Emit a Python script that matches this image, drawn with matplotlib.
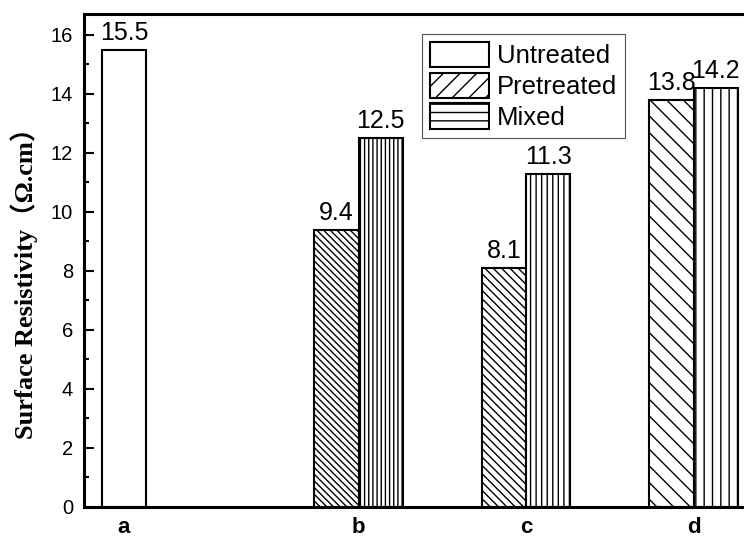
import numpy as np
import matplotlib
matplotlib.use("Agg")
import matplotlib.pyplot as plt
from matplotlib.patches import Patch

# data
categories = ['a', 'b', 'c', 'd']
untreated = [15.5, None, None, None]
pretreated = [None, 9.4, 8.1, 13.8]
mixed = [None, 12.5, 11.3, 14.2]

# layout / styles
x_pos = np.array([0.0, 1.4, 2.4, 3.4])
width = 0.263
pre_hatch = [None, '\\\\\\\\\\', '\\\\\\\\', '\\\\']
mix_hatch = [None, '||||', '|||', '||']

plt.rcParams['font.family'] = ['Liberation Sans', 'DejaVu Sans']
plt.rcParams['hatch.linewidth'] = 1.0

fig = plt.figure(figsize=(7.44, 5.40), dpi=100)
ax = fig.add_axes([84 / 744, 1 - 507 / 540, (750 - 84) / 744, (507 - 14) / 540])

def add_labels(xs, vals):
    for x, v in zip(xs, vals):
        ax.annotate(f"{v}", (x, v), xytext=(0, 3.5), textcoords='offset points',
                    ha='center', va='bottom', fontsize=18)

for i in range(len(categories)):
    if untreated[i] is not None:
        ax.bar(x_pos[i], untreated[i], width, facecolor='white', edgecolor='black', linewidth=1.5)
        add_labels([x_pos[i]], [untreated[i]])
    if pretreated[i] is not None:
        xp = x_pos[i] - width / 2
        ax.bar(xp, pretreated[i], width, facecolor='white', edgecolor='black',
               linewidth=1.5, hatch=pre_hatch[i])
        add_labels([xp], [pretreated[i]])
    if mixed[i] is not None:
        xm = x_pos[i] + width / 2
        ax.bar(xm, mixed[i], width, facecolor='white', edgecolor='black',
               linewidth=1.5, hatch=mix_hatch[i])
        add_labels([xm], [mixed[i]])

ax.set_xlim((84 - 124) / 167.5, (750 - 124) / 167.5)
ax.set_ylim(0, 16.71)
ax.set_yticks(np.arange(0, 17, 2))
ax.set_yticks(np.arange(1, 17, 2), minor=True)
ax.tick_params(axis='y', which='major', direction='in', length=7.5, width=1.5, labelsize=14.5, pad=8)
ax.tick_params(axis='y', which='minor', direction='in', length=3.8, width=1.5)
ax.set_xticks(x_pos)
ax.set_xticklabels(categories, fontweight='bold', fontsize=16)
ax.tick_params(axis='x', length=0, pad=7.5)

for s in ax.spines.values():
    s.set_linewidth(2.2)

ax.set_ylabel('Surface Resistivity（Ω.cm）', fontsize=19, fontweight='bold',
              family=['Liberation Serif', 'Noto Sans CJK SC'])
ax.yaxis.set_label_coords(-0.069, 0.466)

handles = [
    Patch(facecolor='white', edgecolor='black', linewidth=1.5, label='Untreated'),
    Patch(facecolor='white', edgecolor='black', linewidth=1.5, hatch='//', label='Pretreated'),
    Patch(facecolor='white', edgecolor='black', linewidth=1.5, hatch='--', label='Mixed'),
]
leg = ax.legend(handles=handles, loc='upper right', bbox_to_anchor=(625 / 744, 1 - 34 / 540),
                bbox_transform=fig.transFigure, fontsize=18.5, fancybox=False, framealpha=1,
                handlelength=2.3, handleheight=1.15, labelspacing=0.17, handletextpad=0.32,
                borderpad=0.3, borderaxespad=0)
leg.get_frame().set_edgecolor('#555555')
leg.get_frame().set_linewidth(0.8)

fig.savefig('out.png', dpi=100)
